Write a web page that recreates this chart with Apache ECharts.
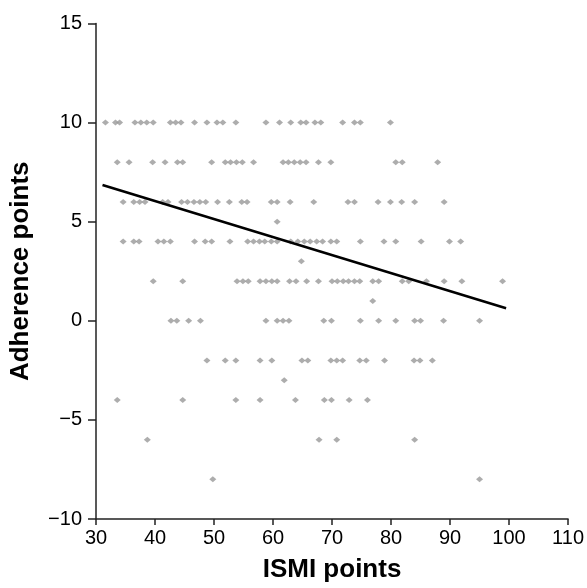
<!DOCTYPE html>
<html>
<head>
<meta charset="utf-8">
<script src="https://cdn.jsdelivr.net/npm/echarts@6/dist/echarts.min.js"></script>
<style>
html,body{margin:0;padding:0;background:#fff;}
#chart{width:587px;height:588px;}
</style>
</head>
<body>
<div id="chart"></div>
<script>
// ISMI points (x) for each adherence score (y)
const xAtY10 = [31.6, 33.3, 34.0, 36.6, 37.6, 38.6, 39.7, 42.6, 43.5, 44.4, 46.7, 48.8, 50.5, 51.5, 53.7, 58.8, 61.1, 63.0, 64.7, 65.6, 67.1, 68.1, 71.8, 73.8, 74.8, 79.9];
const xAtY8 = [33.6, 35.6, 39.6, 41.7, 43.8, 44.7, 49.6, 51.9, 52.8, 53.8, 54.8, 56.7, 61.7, 62.6, 63.6, 64.6, 65.6, 67.7, 69.8, 80.8, 81.9, 87.9];
const xAtY6 = [34.6, 36.4, 37.4, 38.3, 41.3, 42.2, 44.5, 45.5, 46.6, 47.6, 48.6, 50.6, 52.6, 54.7, 55.6, 59.7, 60.7, 62.9, 66.9, 72.7, 73.8, 77.8, 79.9, 81.8, 84.0, 89.0];
const xAtY5 = [60.7];
const xAtY4 = [34.6, 36.4, 37.3, 40.5, 41.5, 42.6, 46.7, 48.5, 49.6, 52.7, 55.7, 56.7, 57.7, 58.6, 59.7, 60.7, 63.0, 64.2, 65.3, 66.3, 67.4, 68.4, 69.8, 70.8, 74.8, 78.8, 80.8, 85.1, 89.9, 91.8];
const xAtY3 = [64.8];
const xAtY2 = [39.7, 44.7, 53.9, 54.9, 55.8, 57.8, 58.8, 59.8, 60.7, 62.8, 63.9, 65.7, 67.7, 70.0, 70.9, 71.9, 72.8, 73.8, 74.7, 76.9, 77.9, 81.9, 83.0, 86.0, 89.0, 92.0, 98.9];
const xAtY1 = [76.9];
const xAtY0 = [42.7, 43.7, 45.7, 47.7, 58.8, 60.7, 61.7, 62.7, 68.6, 69.9, 74.8, 77.9, 80.8, 84.0, 85.0, 88.9, 95.0];
const xAtYm2 = [48.8, 51.9, 53.7, 57.8, 59.8, 64.9, 65.9, 69.8, 70.8, 71.8, 74.7, 75.8, 78.9, 83.9, 84.9, 87.0];
const xAtYm3 = [61.9];
const xAtYm4 = [33.6, 44.7, 53.7, 57.8, 63.8, 68.7, 69.9, 72.9, 76.0];
const xAtYm6 = [38.7, 67.8, 70.8, 84.0];
const xAtYm8 = [49.8, 95.0];

// regression line end points [x, y]
const fitLine = [[31.1, 6.85], [99.5, 0.63]];

const xTicks = {min: 30, max: 110, interval: 10};
const yTicks = {min: -10, max: 15, interval: 5};

const rows = [
  [10, xAtY10], [8, xAtY8], [6, xAtY6], [5, xAtY5], [4, xAtY4], [3, xAtY3],
  [2, xAtY2], [1, xAtY1], [0, xAtY0], [-2, xAtYm2], [-3, xAtYm3],
  [-4, xAtYm4], [-6, xAtYm6], [-8, xAtYm8]
];
const points = [];
rows.forEach(([y, xs]) => xs.forEach(x => points.push([x, y])));

const font = 'Liberation Sans, Arial, sans-serif';
const chart = echarts.init(document.getElementById('chart'), null, {renderer: 'canvas'});
chart.setOption({
  animation: false,
  backgroundColor: '#ffffff',
  grid: {left: 96, right: 18, top: 23.5, bottom: 62},
  xAxis: {
    type: 'value', min: xTicks.min, max: xTicks.max, interval: xTicks.interval,
    name: 'ISMI points', nameLocation: 'middle', nameGap: 38,
    nameTextStyle: {fontFamily: font, fontSize: 26, fontWeight: 'bold', color: '#000'},
    axisLine: {show: true, onZero: false, lineStyle: {color: '#222', width: 1.5}},
    axisTick: {show: true, length: 6, lineStyle: {color: '#222', width: 1.5}},
    axisLabel: {fontFamily: font, fontSize: 20, color: '#000', margin: 9},
    splitLine: {show: false}
  },
  yAxis: {
    type: 'value', min: yTicks.min, max: yTicks.max, interval: yTicks.interval,
    name: 'Adherence points', nameLocation: 'middle', nameGap: 62,
    nameTextStyle: {fontFamily: font, fontSize: 26, fontWeight: 'bold', color: '#000'},
    axisLine: {show: true, onZero: false, lineStyle: {color: '#222', width: 1.5}},
    axisTick: {show: true, length: 8, lineStyle: {color: '#222', width: 1.5}},
    axisLabel: {fontFamily: font, fontSize: 20, color: '#000', margin: 14,
      formatter: v => (v < 0 ? '\u2212' + Math.abs(v) : String(v))},
    splitLine: {show: false}
  },
  series: [
    {
      type: 'scatter', data: points, symbol: 'diamond', symbolSize: [7, 6],
      itemStyle: {color: '#999999'}, z: 2
    },
    {
      type: 'line', data: fitLine, symbol: 'none',
      lineStyle: {color: '#000', width: 2.5}, z: 3
    }
  ]
});
</script>
</body>
</html>
